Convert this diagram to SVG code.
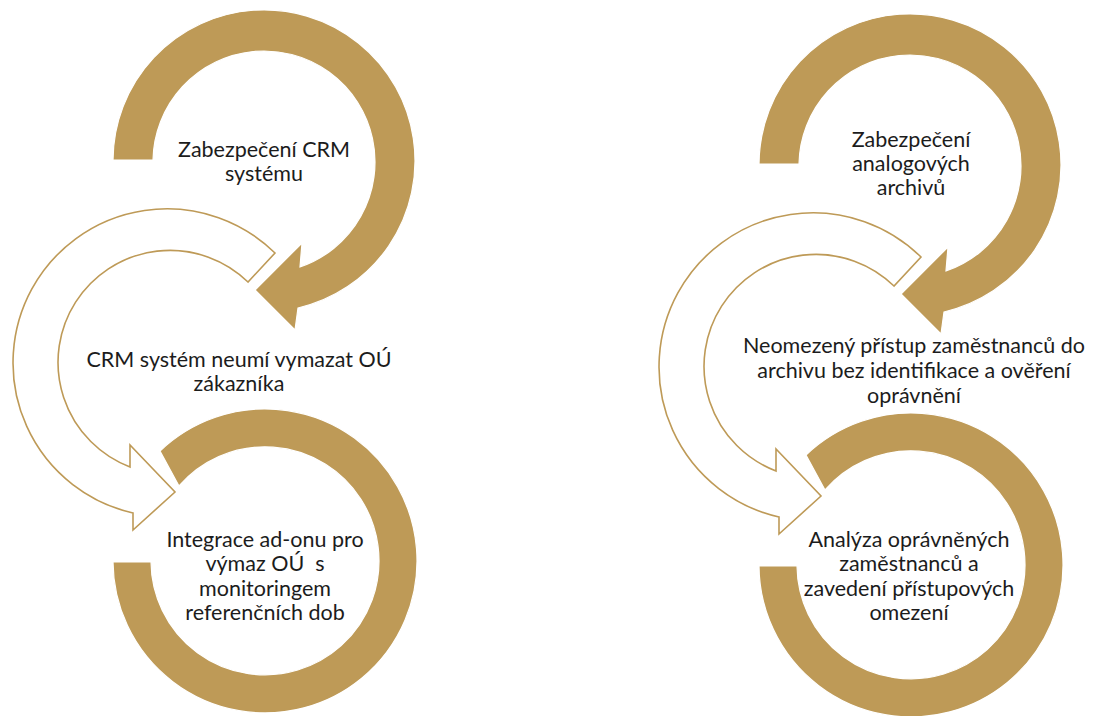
<svg xmlns="http://www.w3.org/2000/svg" xmlns:xlink="http://www.w3.org/1999/xlink" width="1095" height="716" viewBox="0 0 1095 716">
  <style>
    .gold { fill: #BE9A57; stroke: #ffffff; stroke-width: 1.2; stroke-linejoin: miter; }
    .hollow { fill: #ffffff; stroke: #BE9A57; stroke-width: 1.6; stroke-linejoin: miter; }
    .lbl { font-family: Lato, "Liberation Sans", sans-serif; font-size: 21.5px; fill: #1c1c1c; text-anchor: middle; }
  </style>
  <defs>
    <path id="arcTop" d="M113,160 A151,151 0 1 1 298,308 L295,330 L255,290 L302,243 L300,267 A111,111 0 1 0 153,160 Z"/>
    <path id="arcMid" d="M275,253 A154,154 0 1 0 133,513 L133,530 L175,492 L130,445 L130,467 A112,112 0 1 1 248,282 Z"/>
    <path id="arcBot" d="M160,451 A152,152 0 1 1 113,562 L151,562 A114,114 0 1 0 179,486 Z"/>
  </defs>
  <rect x="0" y="0" width="1095" height="716" fill="#ffffff"/>

  <g id="left-mid">
    <use xlink:href="#arcMid" class="hollow"/>
    <text class="lbl" x="239" y="367">CRM systém neumí vymazat OÚ</text>
    <text class="lbl" x="239" y="391">zákazníka</text>
  </g>
  <g id="left-top">
    <use xlink:href="#arcTop" class="gold"/>
    <text class="lbl" x="264" y="157">Zabezpečení CRM</text>
    <text class="lbl" x="264" y="181">systému</text>
  </g>
  <g id="left-bot">
    <use xlink:href="#arcBot" class="gold"/>
    <text class="lbl" x="265" y="547" xml:space="preserve">Integrace ad-onu pro</text>
    <text class="lbl" x="265" y="571" xml:space="preserve">výmaz OÚ  s</text>
    <text class="lbl" x="265" y="596">monitoringem</text>
    <text class="lbl" x="265" y="620">referenčních dob</text>
  </g>

  <g id="right-mid">
    <use xlink:href="#arcMid" class="hollow" transform="translate(646,4)"/>
    <text class="lbl" x="914" y="353">Neomezený přístup zaměstnanců do</text>
    <text class="lbl" x="914" y="378">archivu bez identifikace a ověření</text>
    <text class="lbl" x="914" y="403">oprávnění</text>
  </g>
  <g id="right-top">
    <use xlink:href="#arcTop" class="gold" transform="translate(646,4)"/>
    <text class="lbl" x="911" y="147">Zabezpečení</text>
    <text class="lbl" x="911" y="171">analogových</text>
    <text class="lbl" x="911" y="195">archivů</text>
  </g>
  <g id="right-bot">
    <use xlink:href="#arcBot" class="gold" transform="translate(646,4)"/>
    <text class="lbl" x="909" y="547">Analýza oprávněných</text>
    <text class="lbl" x="909" y="571">zaměstnanců a</text>
    <text class="lbl" x="909" y="596">zavedení přístupových</text>
    <text class="lbl" x="909" y="620">omezení</text>
  </g>
</svg>
